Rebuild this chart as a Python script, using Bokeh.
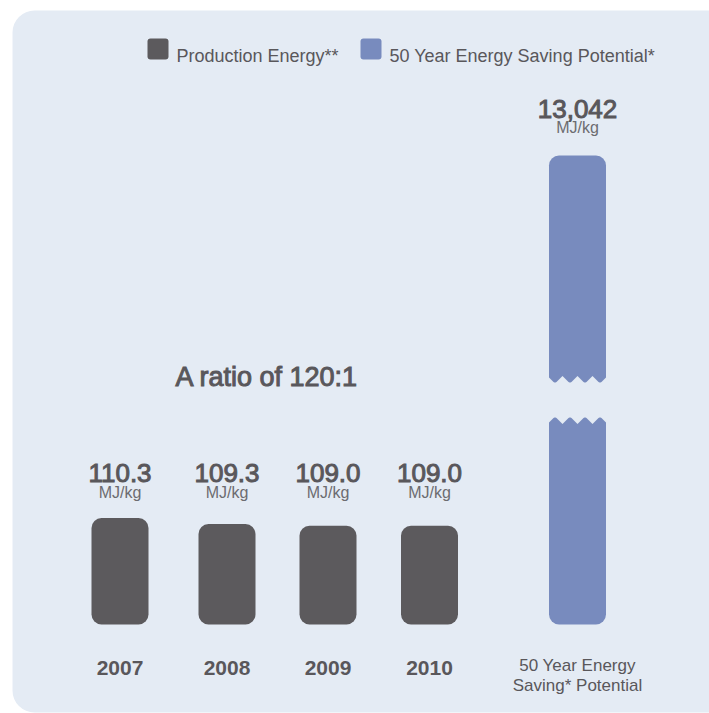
from bokeh.plotting import figure
from bokeh.models import Range1d, ColumnDataSource
from bokeh.core.properties import value
from bokeh.embed import file_html
from bokeh.resources import INLINE

# ---- data -------------------------------------------------------------
years = ["2007", "2008", "2009", "2010"]
production_energy = [110.3, 109.3, 109.0, 109.0]          # MJ/kg
saving_potential = 13042                                   # MJ/kg over 50 years
saving_label = ["50 Year Energy", "Saving* Potential"]
unit = "MJ/kg"
legend_labels = ["Production Energy**", "50 Year Energy Saving Potential*"]
ratio_text = "A ratio of 120:1"

# ---- style ------------------------------------------------------------
W, H = 709, 713
FONT = "Liberation Sans"
DARK = "#5c5a5d"
BLUE = "#788bbe"
PANEL = "#e4ebf4"
TEXT = "#59575b"
UNIT_TEXT = "#6c6c70"
MEDIUM = dict(text_outline_color=TEXT)   # thickens regular glyphs slightly

# vertical scale: pixels per MJ/kg and the value sitting on the bar baseline
PX_PER_UNIT = 5.88
BASE = 92.2
BASE_PX = 624                      # baseline, pixels from the top

y_start = BASE - (H - BASE_PX) / PX_PER_UNIT
y_end = BASE + BASE_PX / PX_PER_UNIT


def at_px(py):
    """Data value located py pixels below the top edge."""
    return y_start + (H - py) / PX_PER_UNIT


def px_len(n):
    return n / PX_PER_UNIT


# broken axis for the saving-potential bar
BREAK_LO = at_px(417)              # lower piece ends here
GAP = px_len(35)                   # visual gap of the break
UPPER_SPAN = px_len(227)           # visible length of the upper piece
BREAK_HI = saving_potential - UPPER_SPAN


def broken(v):
    if v <= BREAK_LO:
        return v
    return BREAK_LO + GAP + (v - BREAK_HI)


# horizontal layout
BAR_X = [119.5, 226.5, 327.5, 429.0]
SAVE_X = 577.0
BAR_W = 57

p = figure(width=W, height=H, output_backend="svg", toolbar_location=None,
           x_range=Range1d(0, W), y_range=Range1d(y_start, y_end),
           min_border=0, min_border_left=0, min_border_right=0,
           min_border_top=0, min_border_bottom=0)
p.axis.visible = False
p.grid.visible = False
p.outline_line_color = None
p.background_fill_color = "white"
p.border_fill_color = "white"

# rounded light panel
p.quad(left=[12], right=[W + 40], top=[at_px(10)], bottom=[at_px(712)],
       fill_color=PANEL, line_color=None, border_radius=22)

# legend
p.quad(left=[147, 360], right=[168, 381], top=[at_px(38)] * 2, bottom=[at_px(59)] * 2,
       fill_color=[DARK, BLUE], line_color=None, border_radius=3)
p.text(x=[176, 389], y=[at_px(55.5)] * 2, text=legend_labels,
       text_font=value(FONT), text_font_size="18px", text_color=TEXT,
       text_baseline="alphabetic", text_align="left")

# production energy bars
src = ColumnDataSource(dict(x=BAR_X, top=production_energy, year=years,
                            lab=[f"{v:.1f}" for v in production_energy]))
p.vbar(x="x", top="top", bottom=BASE, width=BAR_W, source=src,
       fill_color=DARK, line_color=None, border_radius=10)

label_top = max(production_energy) + px_len(45)
p.text(x=BAR_X, y=[label_top] * len(years), text=src.data["lab"],
       text_font=value(FONT), text_font_size="26px", text_color=TEXT, **MEDIUM,
       text_baseline="alphabetic", text_align="center")
p.text(x=BAR_X, y=[label_top - px_len(19.5)] * len(years), text=[unit] * len(years),
       text_font=value(FONT), text_font_size="16px", text_color=UNIT_TEXT,
       text_baseline="alphabetic", text_align="center")
p.text(x=BAR_X, y=[at_px(667)] * len(years), text=years,
       text_font=value(FONT), text_font_size="21px", text_font_style="bold",
       text_color=TEXT, text_baseline="alphabetic", text_align="center")

# saving potential bar, drawn in two pieces across the break
lo_top = broken(BREAK_LO)
hi_bottom = broken(BREAK_HI)
hi_top = broken(saving_potential)
p.vbar(x=[SAVE_X], bottom=[BASE], top=[lo_top], width=BAR_W,
       fill_color=BLUE, line_color=None, border_radius=(0, 0, 10, 10))
p.vbar(x=[SAVE_X], bottom=[hi_bottom], top=[hi_top], width=BAR_W,
       fill_color=BLUE, line_color=None, border_radius=(10, 10, 0, 0))

# zigzag cut edges
notch_dx = [-30, -15, 0, 15, 30]
half = 7.5
depth = px_len(6.5)
eps = px_len(1)
xs_hi, ys_hi, xs_lo, ys_lo = [], [], [], []
for dx in notch_dx:
    c = SAVE_X + dx
    xs_hi.append([c - half, c, c + half])
    ys_hi.append([hi_bottom - eps, hi_bottom + depth, hi_bottom - eps])
    xs_lo.append([c - half, c, c + half])
    ys_lo.append([lo_top + eps, lo_top - depth, lo_top + eps])
p.patches(xs=xs_hi + xs_lo, ys=ys_hi + ys_lo, fill_color=PANEL, line_color=None)

p.text(x=[SAVE_X], y=[hi_top + px_len(47)], text=[f"{saving_potential:,}"],
       text_font=value(FONT), text_font_size="26px", text_color=TEXT, **MEDIUM,
       text_baseline="alphabetic", text_align="center")
p.text(x=[SAVE_X], y=[hi_top + px_len(28.5)], text=[unit],
       text_font=value(FONT), text_font_size="16px", text_color=UNIT_TEXT,
       text_baseline="alphabetic", text_align="center")
p.text(x=[SAVE_X] * 2, y=[at_px(665), at_px(685)], text=saving_label,
       text_font=value(FONT), text_font_size="17px", text_color=TEXT,
       text_baseline="alphabetic", text_align="center")

# headline ratio
p.text(x=[175], y=[at_px(376)], text=[ratio_text],
       text_font=value(FONT), text_font_size="27px", text_color=TEXT, **MEDIUM,
       text_baseline="alphabetic", text_align="left")

open("out.html", "w").write(file_html(p, INLINE))
